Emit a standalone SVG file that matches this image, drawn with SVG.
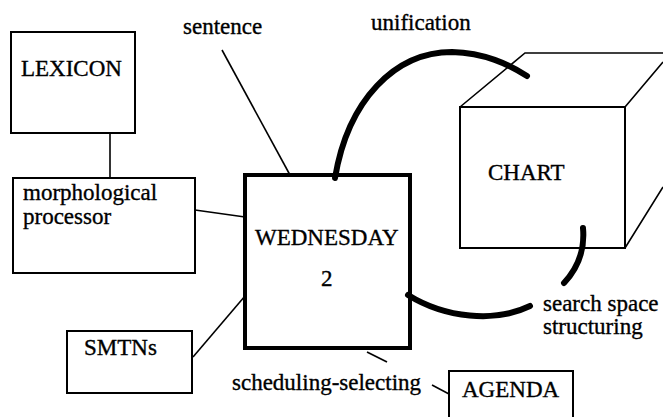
<svg xmlns="http://www.w3.org/2000/svg" width="663" height="417" viewBox="0 0 663 417">
<style>
text{font-family:"Liberation Serif","Times New Roman",serif;font-size:23px;fill:#000;stroke:#000;stroke-width:0.35}
.box{fill:#fff;stroke:#000;stroke-width:2}
.thin{fill:none;stroke:#000;stroke-width:1.6}
.thick{fill:none;stroke:#000;stroke-width:6;stroke-linecap:round}
</style>
<rect width="663" height="417" fill="#fff"/>
<g id="connectors">
<line class="thin" x1="110" y1="133" x2="110" y2="178"/>
<line class="thin" x1="195" y1="210" x2="245" y2="217"/>
<line class="thin" x1="193" y1="357" x2="245" y2="296"/>
<line class="thin" x1="222" y1="50" x2="290" y2="175"/>
<line class="thin" x1="367" y1="352" x2="387" y2="362"/>
<line class="thin" x1="432" y1="385" x2="449" y2="394"/>
</g>
<g id="lexicon">
<rect class="box" x="11" y="32" width="124" height="101"/>
<text x="21" y="76">LEXICON</text>
</g>
<g id="morph">
<rect class="box" x="13" y="178" width="182" height="95"/>
<text x="23" y="200">morphological</text>
<text x="23" y="224">processor</text>
</g>
<g id="smtns">
<rect class="box" x="67" y="331" width="125" height="62"/>
<text x="84" y="355">SMTNs</text>
</g>
<g id="chart">
<path class="thin" stroke-width="2" d="M460,107 L525,53 L663,53 M625,107 L663,62 M625,248 L663,187"/>
<rect class="box" x="460" y="107" width="165" height="141"/>
<text x="488" y="180">CHART</text>
</g>
<g id="wednesday">
<rect fill="#fff" stroke="#000" stroke-width="4" x="245" y="175" width="165" height="173"/>
<text x="255" y="245">WEDNESDAY</text>
<text x="321" y="286">2</text>
</g>
<g id="agenda">
<rect class="box" x="449" y="371" width="124" height="60"/>
<text x="462" y="397">AGENDA</text>
</g>
<g id="curves">
<path class="thick" d="M335,178 C348,100 395,52 452,52 C485,53 508,64 527,76"/>
<path class="thick" d="M583,228 C585,250 578,268 564,283"/>
<path class="thick" d="M408,295 C445,318 495,323 530,306"/>
</g>
<g id="labels">
<text x="183" y="34">sentence</text>
<text x="371" y="30">unification</text>
<text x="543" y="311">search space</text>
<text x="543" y="334">structuring</text>
<text x="232" y="390">scheduling-selecting</text>
</g>
</svg>
